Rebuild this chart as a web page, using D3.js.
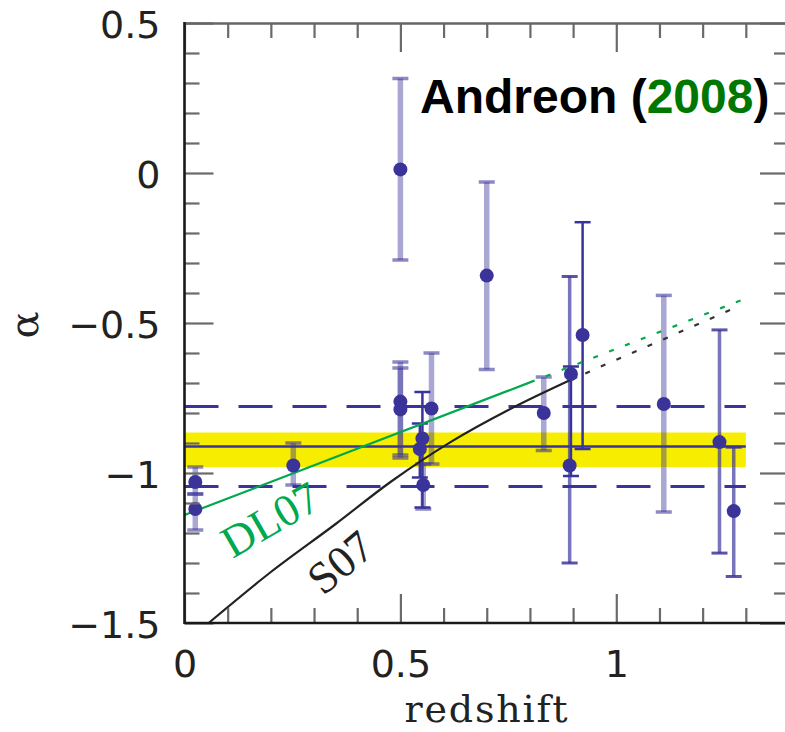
<!DOCTYPE html>
<html><head><meta charset="utf-8">
<script src="https://cdn.jsdelivr.net/npm/d3@7"></script>
<style>body{margin:0;background:#fff}</style></head>
<body><svg id="c" width="785" height="732" xmlns="http://www.w3.org/2000/svg"></svg>
<script>
// ---- data ----
const pointX   = [0.025, 0.025, 0.252, 0.50, 0.50, 0.50, 0.551, 0.545, 0.553, 0.572, 0.70, 0.832, 0.892, 0.895, 0.922, 1.11, 1.239, 1.272];
const pointY   = [-1.03, -1.12, -0.975, 0.012, -0.762, -0.788, -0.885, -0.92, -1.04, -0.785, -0.342, -0.80, -0.975, -0.67, -0.54, -0.77, -0.897, -1.127];
const errLo    = [-1.07, -1.19, -1.04, -0.29, -0.94, -0.95, -1.115, -1.015, -1.12, -0.97, -0.655, -0.925, -1.30, -1.01, -0.92, -1.13, -1.267, -1.345];
const errHi    = [-0.98, -1.07, -0.90, 0.315, -0.63, -0.65, -0.73, -0.835, -0.97, -0.60, -0.03, -0.68, -0.345, -0.645, -0.164, -0.408, -0.523, -0.914];
const errStyle = ["light","light","light","light","light","light","dark","dark","light","light","light","light","mid","dark","dark","light","mid","mid"];

const meanAlpha = -0.912;
const bandAlpha = [-0.98, -0.865];
const dashAlpha = [-0.778, -1.045];
const lineXRange = [0, 1.3];

const dl07SolidX = [0, 0.8],   dl07SolidY = [-1.14, -0.698];
const dl07DotX   = [0.8, 1.3], dl07DotY   = [-0.698, -0.418];
const s07SolidX = [0.056, 0.2, 0.35, 0.477, 0.616, 0.75, 0.909];
const s07SolidY = [-1.5, -1.33, -1.17, -1.03, -0.897, -0.79, -0.68];
const s07DotX = [0.909, 1.1, 1.287];
const s07DotY = [-0.68, -0.56, -0.442];

const xMajor = [0, 0.5, 1];
const xMinor = [0.1,0.2,0.3,0.4,0.6,0.7,0.8,0.9,1.1,1.2,1.3];
const yMajor = [-1.5, -1, -0.5, 0, 0.5];
const yMinor = [-1.4,-1.3,-1.2,-1.1,-0.9,-0.8,-0.7,-0.6,-0.4,-0.3,-0.2,-0.1,0.1,0.2,0.3,0.4];

// ---- drawing ----
const svg = d3.select("#c");
const x = d3.scaleLinear().domain([0, 1.4]).range([184.5, 789]);
const y = d3.scaleLinear().domain([-1.5, 0.5]).range([623, 23]);
const blue = "#3a3399";

// band
svg.append("rect").attr("x", x(lineXRange[0])).attr("width", x(lineXRange[1]) - x(lineXRange[0]))
  .attr("y", y(bandAlpha[1])).attr("height", y(bandAlpha[0]) - y(bandAlpha[1]))
  .attr("fill", "#f6ed00");

// error bars
const st = {light:{op:0.43,w:5.5,cw:3.5}, mid:{op:0.68,w:3.5,cw:3}, dark:{op:1,w:2.5,cw:2.5}};
const eb = svg.append("g");
pointX.forEach((px, i) => {
  const s = st[errStyle[i]];
  eb.append("line").attr("x1", x(px)).attr("x2", x(px)).attr("y1", y(errLo[i])).attr("y2", y(errHi[i]))
    .attr("stroke", blue).attr("stroke-opacity", s.op).attr("stroke-width", s.w);
  [errLo[i], errHi[i]].forEach(v => {
    eb.append("line").attr("x1", x(px) - 8).attr("x2", x(px) + 8).attr("y1", y(v)).attr("y2", y(v))
      .attr("stroke", blue).attr("stroke-opacity", Math.min(1, s.op + 0.15)).attr("stroke-width", s.cw);
  });
});

// horizontal lines
svg.append("line").attr("x1", x(lineXRange[0])).attr("x2", x(lineXRange[1]))
  .attr("y1", y(meanAlpha)).attr("y2", y(meanAlpha)).attr("stroke", blue).attr("stroke-width", 2.5);
dashAlpha.forEach(v => svg.append("line").attr("x1", x(lineXRange[0])).attr("x2", x(lineXRange[1]))
  .attr("y1", y(v)).attr("y2", y(v)).attr("stroke", blue).attr("stroke-width", 3)
  .attr("stroke-dasharray", "34,20"));

// model curves
const ln = d3.line().x(d => x(d[0])).y(d => y(d[1])).curve(d3.curveMonotoneX);
const zip = (a, b) => a.map((v, i) => [v, b[i]]);
svg.append("path").attr("d", ln(zip(dl07SolidX, dl07SolidY))).attr("fill", "none").attr("stroke", "#00a84f").attr("stroke-width", 2.2);
svg.append("path").attr("d", ln(zip(dl07DotX, dl07DotY))).attr("fill", "none").attr("stroke", "#00a84f").attr("stroke-width", 2.2).attr("stroke-dasharray", "5,12");
svg.append("path").attr("d", ln(zip(s07SolidX, s07SolidY))).attr("fill", "none").attr("stroke", "#222").attr("stroke-width", 2.2);
svg.append("path").attr("d", ln(zip(s07DotX, s07DotY))).attr("fill", "none").attr("stroke", "#333").attr("stroke-width", 2.2).attr("stroke-dasharray", "5,12").attr("stroke-dashoffset", 8);

// points
svg.append("g").selectAll("circle").data(pointX).join("circle")
  .attr("cx", d => x(d)).attr("cy", (d, i) => y(pointY[i])).attr("r", 7).attr("fill", blue);

// curve labels
svg.append("text").attr("transform", "translate(270,519) rotate(-30)").attr("text-anchor", "middle").attr("dy", "0.35em")
  .attr("font-family", "Liberation Serif").attr("font-size", 45).attr("fill", "#00a84f").text("DL07");
svg.append("text").attr("transform", "translate(340,562) rotate(-40)").attr("text-anchor", "middle").attr("dy", "0.35em")
  .attr("font-family", "Liberation Serif").attr("font-size", 45).attr("fill", "#222").text("S07");

// frame ticks via axes
function frameAxis(gen, scale, vals, size, tr) {
  const g = svg.append("g").attr("transform", tr)
    .call(gen(scale).tickValues(vals).tickSize(size).tickSizeOuter(0).tickFormat(""));
  g.select(".domain").remove();
  g.selectAll(".tick line").attr("stroke", "#6a6a6a").attr("stroke-width", 2.2);
}
frameAxis(d3.axisTop, x, xMinor, 15, "translate(0,623)");
frameAxis(d3.axisTop, x, xMajor, 29, "translate(0,623)");
frameAxis(d3.axisBottom, x, xMinor, 15, "translate(0,23)");
frameAxis(d3.axisBottom, x, xMajor, 29, "translate(0,23)");
frameAxis(d3.axisRight, y, yMinor, 15, "translate(184.5,0)");
frameAxis(d3.axisRight, y, yMajor, 29, "translate(184.5,0)");
frameAxis(d3.axisLeft, y, yMinor, 15, "translate(789,0)");
frameAxis(d3.axisLeft, y, yMajor, 29, "translate(789,0)");

// frame lines
svg.append("line").attr("x1", 184.5).attr("x2", 789).attr("y1", 23.5).attr("y2", 23.5).attr("stroke", "#666").attr("stroke-width", 2.5);
svg.append("line").attr("x1", 789).attr("x2", 789).attr("y1", 23).attr("y2", 623).attr("stroke", "#666").attr("stroke-width", 2.5);
svg.append("line").attr("x1", 184.5).attr("x2", 789).attr("y1", 623).attr("y2", 623).attr("stroke", "#1a1a1a").attr("stroke-width", 2.6);
svg.append("line").attr("x1", 184.5).attr("x2", 184.5).attr("y1", 22).attr("y2", 624).attr("stroke", "#1a1a1a").attr("stroke-width", 2.6);

// tick labels
const fmt = d => (d < 0 ? "\u2212" : "") + String(Math.abs(d));
const yl = svg.append("g").attr("transform", "translate(184.5,0)")
  .call(d3.axisLeft(y).tickValues(yMajor).tickSize(0).tickPadding(24).tickFormat(fmt));
yl.select(".domain").remove();
yl.selectAll("text").attr("font-family", "DejaVu Sans").attr("font-size", 38).attr("fill", "#222").attr("dy", "0.37em");
const xl = svg.append("g").attr("transform", "translate(0,623)")
  .call(d3.axisBottom(x).tickValues(xMajor).tickSize(0).tickPadding(27).tickFormat(fmt));
xl.select(".domain").remove();
xl.selectAll("text").attr("font-family", "DejaVu Serif" === "" ? "" : "DejaVu Sans").attr("font-size", 38).attr("fill", "#222");

// axis titles
svg.append("text").attr("x", 487).attr("y", 722).attr("text-anchor", "middle")
  .attr("font-family", "DejaVu Serif").attr("font-size", 38).attr("fill", "#222")
  .attr("letter-spacing", 1.8).text("redshift");
svg.append("text").attr("transform", "translate(24,325) rotate(-90)").attr("text-anchor", "middle")
  .attr("dominant-baseline", "central")
  .attr("font-family", "DejaVu Serif").attr("font-size", 40).attr("fill", "#222").text("\u03b1");

// title
const t = svg.append("text").attr("x", 420).attr("y", 113).attr("font-family", "Liberation Sans").attr("font-weight", "bold").attr("font-size", 48).attr("fill", "#000");
t.append("tspan").text("Andreon (");
t.append("tspan").attr("fill", "#007700").text("2008");
t.append("tspan").text(")");
</script>
</body></html>
